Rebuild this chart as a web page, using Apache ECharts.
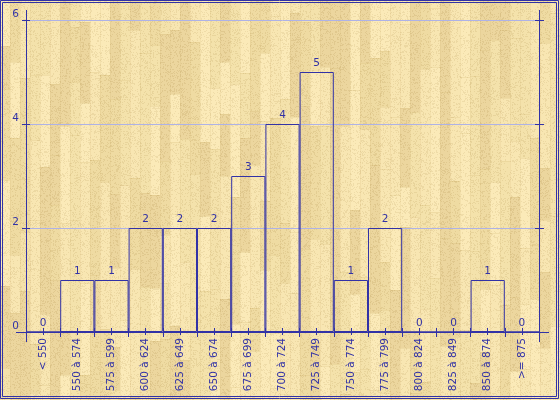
<!DOCTYPE html>
<html><head><meta charset="utf-8">
<script src="https://cdn.jsdelivr.net/npm/echarts@6/dist/echarts.min.js"></script>
<style>html,body{margin:0;padding:0;background:#efdca6}#c{width:560px;height:400px}</style>
</head><body><div id="c"></div>
<script>
// ---- data ----
const categories = ['< 550','550 à 574','575 à 599','600 à 624','625 à 649','650 à 674','675 à 699','700 à 724','725 à 749','750 à 774','775 à 799','800 à 824','825 à 849','850 à 874','>= 875'];
const counts = [0,1,1,2,2,2,3,4,5,1,2,0,0,1,0];
const yTicks = [0,2,4,6];

// ---- wood texture (decorative background only) ----
function hash(n){const s=Math.sin(n*12.9898+78.233)*43758.5453;return s-Math.floor(s);}
const W=560,H=400;
const cv=document.createElement('canvas');cv.width=W;cv.height=H;
const g=cv.getContext('2d');
const tones=['#fbeab8','#f4e2ab','#efdba2','#f8e6b2','#ecd69e'];
let col=0;
for(let x=0;x<W;x+=10){
  let y=-Math.floor(hash(col*7.1)*80);let k=0;
  while(y<H){
    const len=40+Math.floor(hash(col*31+k*3.7)*110);
    const t=tones[Math.floor(hash(col*13+k*5.3)*tones.length)];
    g.fillStyle=t;g.fillRect(x,y,10,len);
    g.fillStyle='rgba(200,170,100,0.18)';g.fillRect(x,y,10,1);
    y+=len;k++;
  }
  g.fillStyle='rgba(205,175,105,0.15)';g.fillRect(x,0,1,H);
  col++;
}
const img=g.getImageData(0,0,W,H);const d=img.data;
for(let i=0;i<W*H;i++){
  const r=hash(i*0.731);
  if(r>0.78){d[i*4]-=12;d[i*4+1]-=14;d[i*4+2]-=16;}
}
g.putImageData(img,0,0);
document.getElementById('c').style.background='url('+cv.toDataURL()+')';

// ---- chart ----
const BLUE='#3232a6';
const GL=26,GR=21,GT=20,GB=68;
const font='DejaVu Sans';
const chart=echarts.init(document.getElementById('c'),null,{renderer:'canvas'});
function xa(extra){return Object.assign({type:'category',data:categories,boundaryGap:true,gridIndex:0,position:'bottom',
  axisLine:{show:false},axisLabel:{show:false},splitLine:{show:false}},extra);}
function ya(extra){return Object.assign({type:'value',min:0,max:6,interval:2,gridIndex:0,
  axisLine:{show:false},axisLabel:{show:false},splitLine:{show:false}},extra);}
chart.setOption({
  animation:false,
  backgroundColor:'transparent',
  grid:{left:GL,right:GR,top:GT,bottom:GB,containLabel:false},
  xAxis:[
    xa({axisTick:{show:true,interval:0,length:5,lineStyle:{color:BLUE}},
        axisLabel:{show:true,interval:0,rotate:90,margin:6,fontSize:10.5,fontFamily:font,color:BLUE}}),
    xa({axisTick:{show:true,interval:0,inside:true,length:4,lineStyle:{color:BLUE}}}),
    xa({axisTick:{show:true,interval:0,alignWithLabel:true,length:3,lineStyle:{color:BLUE}}}),
    xa({axisTick:{show:true,interval:0,alignWithLabel:true,inside:true,length:4,lineStyle:{color:BLUE}}})
  ],
  yAxis:[
    ya({position:'left',splitLine:{show:true,lineStyle:{color:'#aeb2e6',width:1}},
        axisTick:{show:true,length:4,lineStyle:{color:BLUE}},
        axisLabel:{show:true,margin:7,fontSize:10.5,fontFamily:font,color:BLUE,verticalAlign:'bottom',
          formatter:v=>yTicks.includes(v)?String(v):''}}),
    ya({position:'left',axisTick:{show:true,inside:true,length:4,lineStyle:{color:BLUE}}}),
    ya({position:'right',axisTick:{show:true,length:5,lineStyle:{color:BLUE}}}),
    ya({position:'right',axisTick:{show:true,inside:true,length:4,lineStyle:{color:BLUE}}})
  ],
  series:[{
    type:'bar',data:counts,barWidth:'100%',barGap:'0%',barCategoryGap:'0%',
    itemStyle:{color:'rgba(0,0,0,0)',borderColor:BLUE,borderWidth:1},
    label:{show:true,position:'top',distance:3,fontSize:10.5,fontFamily:font,color:BLUE}
  }],
  graphic:[
    {type:'rect',shape:{x:0.5,y:0.5,width:558,height:398},style:{fill:null,stroke:BLUE,lineWidth:1},silent:true},
    {type:'rect',shape:{x:2.5,y:2.5,width:554,height:394},style:{fill:null,stroke:BLUE,lineWidth:1},silent:true},
    {type:'line',shape:{x1:GL-10,y1:H-GB+0.5,x2:W-GR+10,y2:H-GB+0.5},style:{stroke:BLUE,lineWidth:1},silent:true,z:10},
    {type:'line',shape:{x1:GL+0.5,y1:GT-10,x2:GL+0.5,y2:H-GB+10},style:{stroke:BLUE,lineWidth:1},silent:true,z:10},
    {type:'line',shape:{x1:W-GR+0.5,y1:GT-10,x2:W-GR+0.5,y2:H-GB+10},style:{stroke:BLUE,lineWidth:1},silent:true,z:10}
  ]
});
</script></body></html>
